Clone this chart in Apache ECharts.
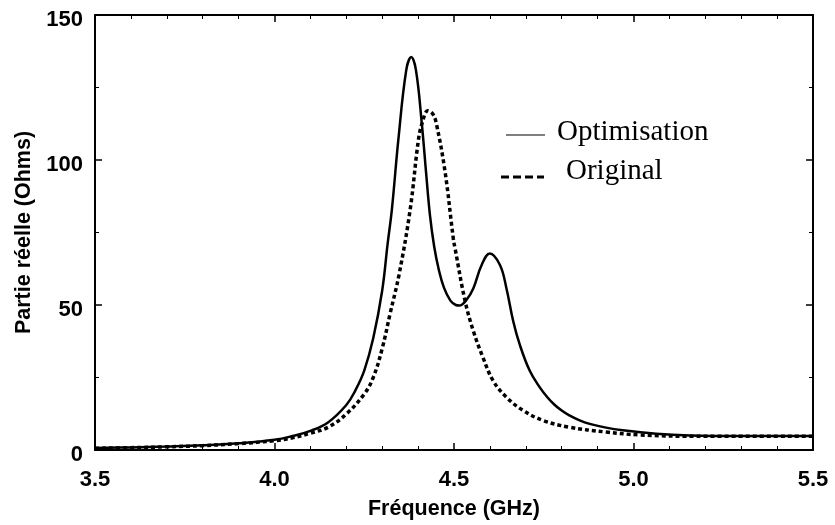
<!DOCTYPE html>
<html>
<head>
<meta charset="utf-8">
<script src="https://cdn.jsdelivr.net/npm/echarts@6/dist/echarts.min.js"></script>
<style>
html,body{margin:0;padding:0;background:#fff;}
#chart{width:835px;height:525px;}
</style>
</head>
<body>
<div id="chart"></div>
<script>
var freqOpt = [3.50,3.60,3.70,3.80,3.90,4.00,4.05,4.10,4.15,4.20,4.225,4.25,4.275,4.30,4.315,4.327,4.345,4.367,4.381,4.394,4.410,4.422,4.433,4.445,4.458,4.472,4.490,4.505,4.515,4.535,4.554,4.577,4.600,4.628,4.646,4.665,4.683,4.711,4.739,4.76,4.78,4.80,4.82,4.85,4.878,4.92,4.97,5.063,5.156,5.30,5.50];
var valOpt  = [0.7,0.9,1.2,1.6,2.3,3.5,4.8,6.6,9.6,15.5,20.5,27.4,38.5,55,71,83,107,131,135.5,131,113,96,81,70,62,56,51.5,50,49.8,51.8,55.8,63.8,67.8,63.8,55.8,44.4,36.4,27.3,21.6,18.2,15.6,13.6,12.0,10.2,9.0,7.8,6.8,5.6,5.0,4.8,4.8];

var freqOrig = [3.50,3.60,3.70,3.80,3.90,4.00,4.05,4.10,4.15,4.20,4.25,4.275,4.30,4.322,4.347,4.378,4.401,4.412,4.427,4.44,4.45,4.475,4.498,4.503,4.531,4.554,4.581,4.609,4.646,4.693,4.748,4.82,4.924,5.017,5.20,5.50];
var valOrig  = [0.6,0.8,1.1,1.5,2.2,3.2,4.2,5.8,7.9,12.4,19.3,25,35,47,60.5,83,107,113,117,116,113,96,73,69.5,51.3,41,31.8,23.9,18.2,13.6,10.2,7.9,6.2,5.2,4.7,4.7];

var seriesNames = ['Optimisation', 'Original'];
var xTitle = 'Fréquence (GHz)';
var yTitle = 'Partie réelle (Ohms)';

function pairs(xs, ys){ return xs.map(function(x,i){ return [x, ys[i]]; }); }

var SANS = 'Liberation Sans, Arial, sans-serif';

function xAx(pos, show){
  return {
    type:'value', min:3.5, max:5.5, interval:0.5, position:pos,
    axisLine:{show:true, onZero:false, lineStyle:{color:'#000', width:2}},
    axisTick:{show:true, inside:true, length:7, lineStyle:{color:'#000', width:1.5}},
    minorTick:{show:true, splitNumber:5, length:4, lineStyle:{color:'#000', width:1}},
    splitLine:{show:false},
    axisLabel:{show:show, margin:19, fontFamily:SANS, fontWeight:'bold', fontSize:22, color:'#000',
      formatter:function(v){return v.toFixed(1);}},
    name: show ? xTitle : '',
    nameLocation:'middle', nameGap:48,
    nameTextStyle:{fontFamily:SANS, fontWeight:'bold', fontSize:21.5, color:'#000'}
  };
}
function yAx(pos, show){
  return {
    type:'value', min:0, max:150, interval:50, position:pos,
    axisLine:{show:true, onZero:false, lineStyle:{color:'#000', width:2}},
    axisTick:{show:true, inside:true, length:7, lineStyle:{color:'#000', width:1.5}},
    minorTick:{show:true, splitNumber:2, length:4, lineStyle:{color:'#000', width:1}},
    splitLine:{show:false},
    axisLabel:{show:show, margin:12, fontFamily:SANS, fontWeight:'bold', fontSize:22, color:'#000',
      verticalAlign:'top', lineHeight:9},
    name: show ? yTitle : '',
    nameLocation:'middle', nameGap:56,
    nameTextStyle:{fontFamily:SANS, fontWeight:'bold', fontSize:21.5, color:'#000'}
  };
}

var chart = echarts.init(document.getElementById('chart'), null, {renderer:'canvas'});
chart.setOption({
  backgroundColor:'#fff',
  animation:false,
  grid:{left:95, right:22, top:15, bottom:72, containLabel:false},
  xAxis:[xAx('bottom', true), xAx('top', false)],
  yAxis:[yAx('left', true), yAx('right', false)],
  series:[
    {name:seriesNames[0], type:'line', xAxisIndex:0, yAxisIndex:0, data:pairs(freqOpt, valOpt),
     showSymbol:false, smooth:0.4,
     lineStyle:{color:'#000', width:2.5, type:'solid'}},
    {name:seriesNames[1], type:'line', xAxisIndex:0, yAxisIndex:0, data:pairs(freqOrig, valOrig),
     showSymbol:false, smooth:0.4, z:3,
     lineStyle:{color:'#000', width:3.5, type:[4,3]}}
  ],
  graphic:[
    {type:'line', shape:{x1:506, y1:135, x2:545, y2:135}, style:{stroke:'#000', lineWidth:1.2}},
    {type:'text', left:557, top:118, style:{text:seriesNames[0], font:'29px "Liberation Serif", "Times New Roman", serif', fill:'#000'}},
    {type:'line', shape:{x1:501, y1:177, x2:544, y2:177}, style:{stroke:'#000', lineWidth:3, lineDash:[8,4]}},
    {type:'text', left:566, top:157, style:{text:seriesNames[1], font:'29px "Liberation Serif", "Times New Roman", serif', fill:'#000'}}
  ]
});
</script>
</body>
</html>
